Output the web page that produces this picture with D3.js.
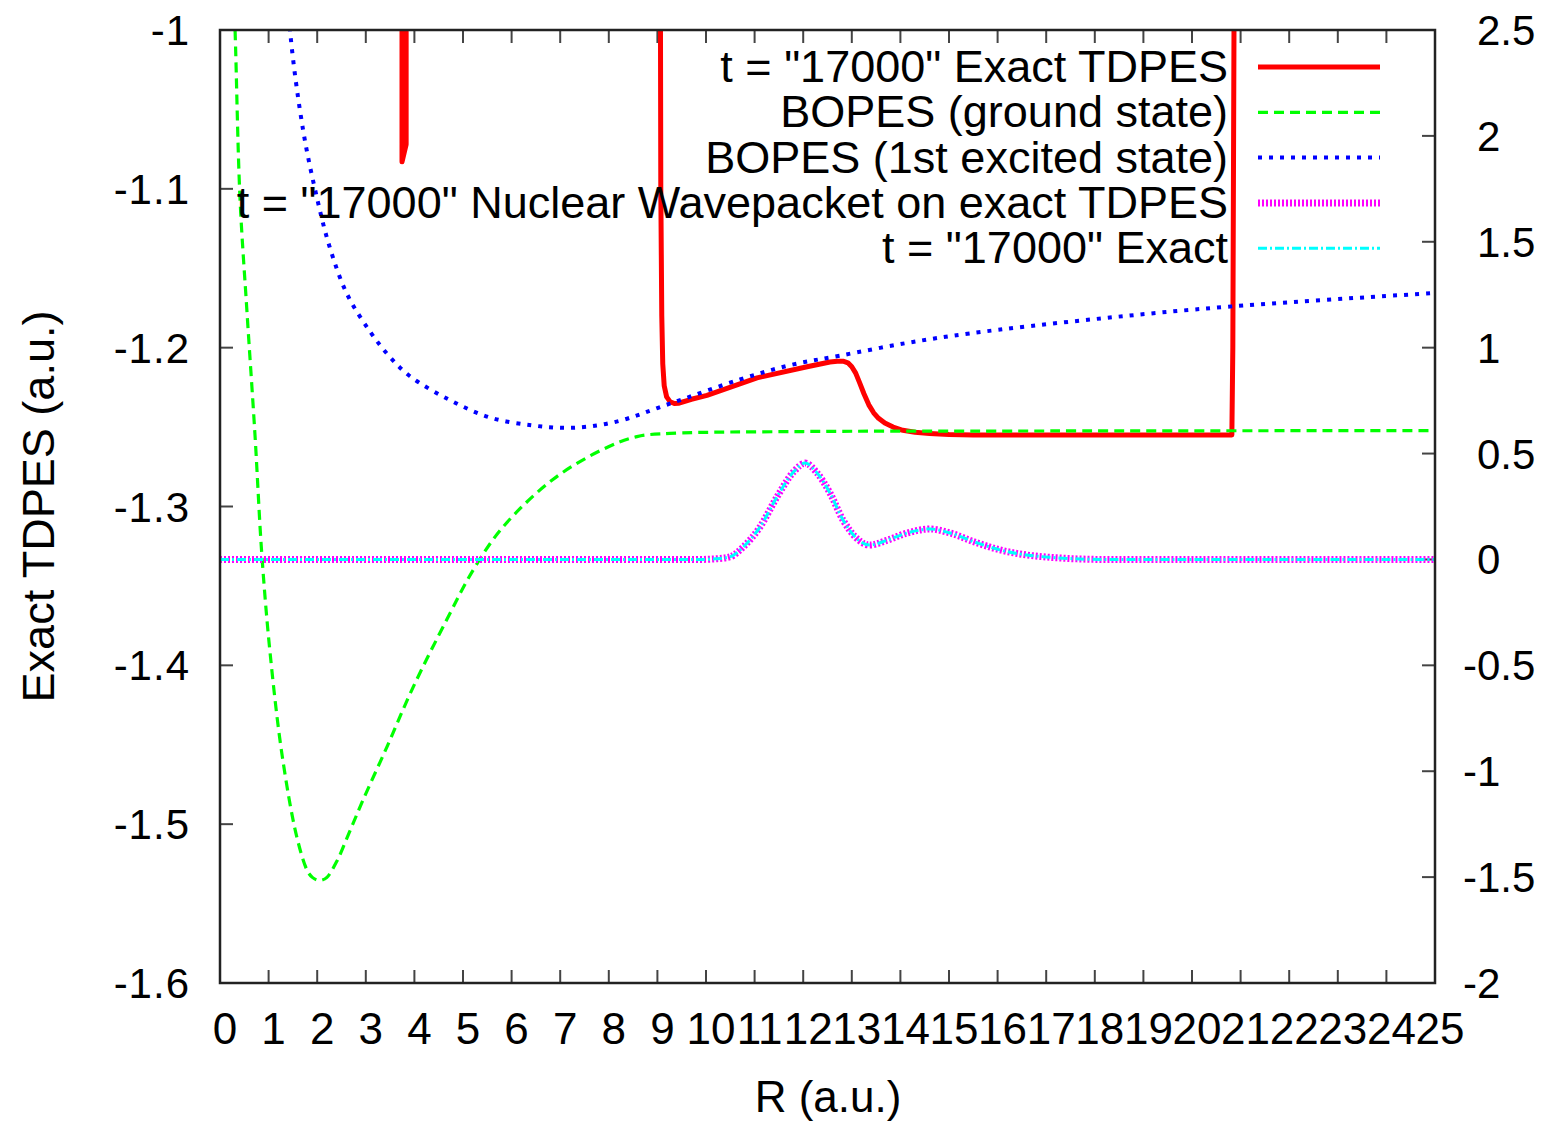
<!DOCTYPE html>
<html>
<head>
<meta charset="utf-8">
<script src="https://cdn.jsdelivr.net/npm/d3@7"></script>
<style>
  body { margin: 0; background: #fff; }
  text { font-family: "Liberation Sans", Arial, sans-serif; fill: #000; }
</style>
</head>
<body>
<svg id="chart"></svg>
<script>
// exact TDPES, BOPES and nuclear wavepacket at t = 17000

// R in a.u. and energy in a.u. (left axis)
const exactTdpes = [
    [3.745, -0.95], [3.745, -1.083], [3.83, -1.072], [3.83, -0.95],
    [9.06, -0.95], [9.07, -1.10], [9.09, -1.18], [9.11, -1.21], [9.14, -1.224],
    [9.19, -1.231], [9.26, -1.234], [9.35, -1.2352], [9.43, -1.235], [9.7, -1.2325],
    [10.02, -1.230], [11.05, -1.219], [12.08, -1.212], [12.55, -1.209], [12.70, -1.2085],
    [12.82, -1.2085], [12.92, -1.2095], [13.00, -1.212], [13.08, -1.216], [13.16, -1.222],
    [13.25, -1.229], [13.35, -1.236], [13.45, -1.241], [13.55, -1.2445], [13.68, -1.2475],
    [13.85, -1.250], [14.05, -1.252], [14.3, -1.2533], [14.6, -1.254], [15.0, -1.2547],
    [15.5, -1.255], [20.82, -1.255], [20.84, -1.20], [20.87, -0.95]
];

const bopesGround = [
    [0.25, -0.95], [0.31, -1.0], [0.41, -1.105], [0.55, -1.175], [0.72, -1.255], [0.86, -1.330],
    [1.03, -1.392], [1.28, -1.457], [1.58, -1.508], [1.8, -1.5295], [1.9, -1.5335], [2.0, -1.5352],
    [2.1, -1.5352], [2.2, -1.5335], [2.41, -1.523], [2.65, -1.506], [2.94, -1.485], [3.44, -1.451],
    [3.97, -1.414], [4.67, -1.371], [5.21, -1.340], [5.82, -1.313], [6.85, -1.283], [7.88, -1.264],
    [8.58, -1.256], [9.26, -1.254], [12, -1.2528], [16, -1.2525], [25, -1.2522]
];

const bopesExcited = [
    [1.35, -0.95], [1.44, -1.0], [1.71, -1.063], [1.99, -1.105], [2.26, -1.137], [2.61, -1.166],
    [3.09, -1.190], [3.5, -1.206], [3.91, -1.218], [4.73, -1.233], [5.56, -1.244],
    [6.44, -1.249], [7.13, -1.2505], [7.75, -1.249], [8.23, -1.246], [8.64, -1.242],
    [9.0, -1.238], [9.47, -1.233], [10.70, -1.220], [11.73, -1.211], [12.76, -1.205],
    [14.14, -1.197], [15.43, -1.191], [18, -1.182], [20.82, -1.174], [25, -1.1656]
];

// wavepacket, right axis
const wavepacket = [
    [0, 0], [9.88, 0], [10.2, 0.003], [10.49, 0.012], [10.77, 0.06], [11.11, 0.153],
    [11.46, 0.295], [11.80, 0.413], [12.04, 0.455], [12.28, 0.41], [12.55, 0.314],
    [12.82, 0.186], [13.10, 0.10], [13.37, 0.068], [13.72, 0.09], [14.14, 0.125],
    [14.61, 0.144], [15.02, 0.125], [15.58, 0.078], [16.05, 0.045], [16.6, 0.021],
    [17.08, 0.01], [17.6, 0.003], [18.2, 0], [25, 0]
];
const exactWavepacket = wavepacket;

const xTicks = d3.range(0, 26, 1);
const yTicks = [-1.6, -1.5, -1.4, -1.3, -1.2, -1.1, -1];
const y2Ticks = [-2, -1.5, -1, -0.5, 0, 0.5, 1, 1.5, 2, 2.5];

const legendLabels = [
    't = "17000" Exact TDPES',
    'BOPES (ground state)',
    'BOPES (1st excited state)',
    't = "17000" Nuclear Wavepacket on exact TDPES',
    't = "17000" Exact'
];

const width = 1544, height = 1121;
const chartMargin = {left: 220, right: 109, top: 30, bottom: 138};
const plotW = width - chartMargin.left - chartMargin.right;
const plotH = height - chartMargin.top - chartMargin.bottom;

const svg = d3.select("#chart").attr("width", width).attr("height", height);

const x = d3.scaleLinear().domain([0, 25]).range([chartMargin.left, chartMargin.left + plotW]);
const y = d3.scaleLinear().domain([-1.6, -1]).range([chartMargin.top + plotH, chartMargin.top]);
const y2 = d3.scaleLinear().domain([-2, 2.5]).range([chartMargin.top + plotH, chartMargin.top]);

svg.append("clipPath").attr("id", "plotClip")
    .append("rect")
    .attr("x", chartMargin.left).attr("y", chartMargin.top)
    .attr("width", plotW).attr("height", plotH);

const fontSize = 44;

// ticks
const tickColor = "#444";
const tickLen = 13;
const ticks = svg.append("g").attr("stroke", tickColor).attr("stroke-width", 2);
xTicks.forEach(function (t) {
    ticks.append("line").attr("x1", x(t)).attr("x2", x(t))
        .attr("y1", y.range()[0]).attr("y2", y.range()[0] - tickLen);
    ticks.append("line").attr("x1", x(t)).attr("x2", x(t))
        .attr("y1", y.range()[1]).attr("y2", y.range()[1] + tickLen);
});
yTicks.forEach(function (t) {
    ticks.append("line").attr("x1", x(0)).attr("x2", x(0) + tickLen)
        .attr("y1", y(t)).attr("y2", y(t));
});
y2Ticks.forEach(function (t) {
    ticks.append("line").attr("x1", x(25)).attr("x2", x(25) - tickLen)
        .attr("y1", y2(t)).attr("y2", y2(t));
});

// tick labels
svg.append("g").selectAll("text").data(xTicks).enter().append("text")
    .attr("x", function (d) { return x(d) + 5; })
    .attr("y", y.range()[0] + 61)
    .attr("text-anchor", "middle")
    .style("font-size", fontSize + "px")
    .text(function (d) { return d; });

svg.append("g").selectAll("text").data(yTicks).enter().append("text")
    .attr("x", chartMargin.left - 30)
    .attr("y", function (d) { return y(d) + 15; })
    .attr("text-anchor", "end")
    .style("font-size", "42px")
    .style("letter-spacing", "1px")
    .text(function (d) { return d; });

svg.append("g").selectAll("text").data(y2Ticks).enter().append("text")
    .attr("x", function (d) { return d < 0 ? 1463 : 1477; })
    .attr("y", function (d) { return y2(d) + 15; })
    .attr("text-anchor", "start")
    .style("font-size", "42px")
    .text(function (d) { return d; });

// axis titles
svg.append("text")
    .attr("transform", "translate(54," + (chartMargin.top + plotH / 2) + ") rotate(-90)")
    .attr("text-anchor", "middle")
    .style("font-size", "45px")
    .text("Exact TDPES (a.u.)");

svg.append("text")
    .attr("x", 828).attr("y", 1112)
    .attr("text-anchor", "middle")
    .style("font-size", fontSize + "px")
    .text("R (a.u.)");

// curves
const lineL = d3.line()
    .x(function (d) { return x(d[0]); }).y(function (d) { return y(d[1]); });
const smoothL = d3.line().curve(d3.curveCatmullRom.alpha(0.5))
    .x(function (d) { return x(d[0]); }).y(function (d) { return y(d[1]); });
const smoothR = d3.line().curve(d3.curveMonotoneX)
    .x(function (d) { return x(d[0]); }).y(function (d) { return y2(d[1]); });

const series = [
    {data: exactTdpes, gen: lineL, color: "#ff0000", w: 5, dash: null},
    {data: bopesGround, gen: smoothL, color: "#00ff00", w: 3.2, dash: "10,6"},
    {data: bopesExcited, gen: smoothL, color: "#0000ff", w: 4, dash: "4,7"},
    {data: wavepacket, gen: smoothR, color: "#ff00ff", w: 7, dash: "2,2"},
    {data: exactWavepacket, gen: smoothR, color: "#00ffff", w: 3, dash: "9,3,2,3"}
];

const plot = svg.append("g").attr("clip-path", "url(#plotClip)");
series.forEach(function (s) {
    plot.append("path")
        .attr("d", s.gen(s.data))
        .attr("fill", "none")
        .attr("stroke", s.color)
        .attr("stroke-width", s.w)
        .attr("stroke-dasharray", s.dash)
        .attr("stroke-linejoin", "round");
});

// frame
svg.append("rect")
    .attr("x", chartMargin.left).attr("y", chartMargin.top)
    .attr("width", plotW).attr("height", plotH)
    .attr("fill", "none").attr("stroke", "#222").attr("stroke-width", 2.5);

// legend
const legend = svg.append("g");
legendLabels.forEach(function (label, i) {
    const ly = 67 + i * 45.3;
    legend.append("text")
        .attr("x", 1228).attr("y", ly + 15)
        .attr("text-anchor", "end")
        .style("font-size", "45px")
        .text(label);
    legend.append("line")
        .attr("x1", 1258).attr("x2", 1380)
        .attr("y1", ly).attr("y2", ly)
        .attr("stroke", series[i].color)
        .attr("stroke-width", series[i].w)
        .attr("stroke-dasharray", series[i].dash);
});
</script>
</body>
</html>
